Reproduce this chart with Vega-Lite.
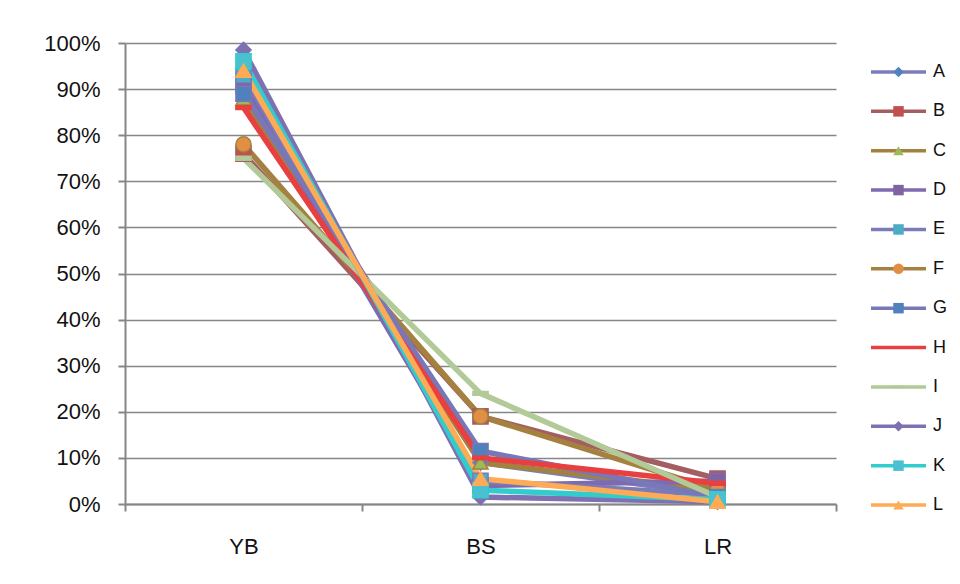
{
  "$schema": "https://vega.github.io/schema/vega-lite/v6.json",
  "padding": {"left": 43, "top": 32, "right": 0, "bottom": 0},
  "background": "white",
  "spacing": 32,
  "config": {
    "font": "Liberation Sans",
    "view": {"stroke": null}
  },
  "datasets": {
    "vals": [
      {"series": "A", "cat": "YB", "value": 0.89}, {"series": "A", "cat": "BS", "value": 0.09}, {"series": "A", "cat": "LR", "value": 0.02},
      {"series": "B", "cat": "YB", "value": 0.76}, {"series": "B", "cat": "BS", "value": 0.19}, {"series": "B", "cat": "LR", "value": 0.055},
      {"series": "C", "cat": "YB", "value": 0.88}, {"series": "C", "cat": "BS", "value": 0.09}, {"series": "C", "cat": "LR", "value": 0.03},
      {"series": "D", "cat": "YB", "value": 0.91}, {"series": "D", "cat": "BS", "value": 0.04}, {"series": "D", "cat": "LR", "value": 0.05},
      {"series": "E", "cat": "YB", "value": 0.93}, {"series": "E", "cat": "BS", "value": 0.05}, {"series": "E", "cat": "LR", "value": 0.02},
      {"series": "F", "cat": "YB", "value": 0.78}, {"series": "F", "cat": "BS", "value": 0.19}, {"series": "F", "cat": "LR", "value": 0.03},
      {"series": "G", "cat": "YB", "value": 0.89}, {"series": "G", "cat": "BS", "value": 0.115}, {"series": "G", "cat": "LR", "value": 0.015},
      {"series": "H", "cat": "YB", "value": 0.86}, {"series": "H", "cat": "BS", "value": 0.10}, {"series": "H", "cat": "LR", "value": 0.045},
      {"series": "I", "cat": "YB", "value": 0.75}, {"series": "I", "cat": "BS", "value": 0.24}, {"series": "I", "cat": "LR", "value": 0.015},
      {"series": "J", "cat": "YB", "value": 0.985}, {"series": "J", "cat": "BS", "value": 0.015}, {"series": "J", "cat": "LR", "value": 0.005},
      {"series": "K", "cat": "YB", "value": 0.96}, {"series": "K", "cat": "BS", "value": 0.03}, {"series": "K", "cat": "LR", "value": 0.01},
      {"series": "L", "cat": "YB", "value": 0.94}, {"series": "L", "cat": "BS", "value": 0.055}, {"series": "L", "cat": "LR", "value": 0.005}
    ],
    "names": [
      {"series": "A"}, {"series": "B"}, {"series": "C"}, {"series": "D"}, {"series": "E"}, {"series": "F"},
      {"series": "G"}, {"series": "H"}, {"series": "I"}, {"series": "J"}, {"series": "K"}, {"series": "L"}
    ]
  },
  "hconcat": [
    {
      "width": 711,
      "height": 461,
      "data": {"name": "vals"},
      "encoding": {
        "x": {
          "field": "cat", "type": "nominal", "bandPosition": 0.5,
          "sort": ["YB", "BS", "LR"],
          "scale": {"type": "band", "domain": ["YB", "BS", "LR"], "paddingInner": 0, "paddingOuter": 0},
          "axis": {
            "title": null, "labelAngle": 0, "tickBand": "extent", "grid": false,
            "domainColor": "#868686", "domainWidth": 2, "tickColor": "#868686", "tickWidth": 2, "tickSize": 7,
            "labelFontSize": 22, "labelColor": "#111111", "labelPadding": 25
          }
        },
        "y": {
          "field": "value", "type": "quantitative",
          "scale": {"domain": [0, 1], "nice": false, "zero": true},
          "axis": {
            "title": null, "format": ".0%", "values": [0, 0.1, 0.2, 0.3, 0.4, 0.5, 0.6, 0.7, 0.8, 0.9, 1],
            "grid": true, "gridColor": "#868686", "gridWidth": 1.5,
            "domainColor": "#868686", "domainWidth": 2, "tickColor": "#868686", "tickWidth": 2, "tickSize": 7,
            "labelFontSize": 22, "labelColor": "#111111", "labelPadding": 18
          }
        }
      },
      "layer": [
        {
          "mark": {"type": "line", "strokeWidth": 5.5, "strokeJoin": "round"},
          "encoding": {
            "stroke": {
              "field": "series", "type": "nominal", "legend": null,
              "scale": {
                "domain": ["A", "B", "C", "D", "E", "F", "G", "H", "I", "J", "K", "L"],
                "range": ["#7C7CBA", "#A35E62", "#A3813F", "#7E6AAE", "#7B7BBA", "#A5813F", "#7878B8", "#E84040", "#B2CA98", "#7F70B2", "#33CCCC", "#FFAA55"]
              }
            },
            "order": {"field": "series"}
          }
        },
        {
          "mark": {"type": "point", "filled": true, "size": 230, "opacity": 1, "strokeWidth": 1.5},
          "encoding": {
            "fill": {
              "field": "series", "type": "nominal", "legend": null,
              "scale": {
                "domain": ["A", "B", "C", "D", "E", "F", "G", "H", "I", "J", "K", "L"],
                "range": ["#4F81BD", "#C0504D", "#9BBB59", "#8064A2", "#4BACC6", "#E08F45", "#4F81BD", "#E84040", "#B2CA98", "#7F70B2", "#4BC0D0", "#FFAA55"]
              }
            },
            "stroke": {"field": "series", "type": "nominal", "legend": null},
            "shape": {
              "field": "series", "type": "nominal", "legend": null,
              "scale": {
                "domain": ["A", "B", "C", "D", "E", "F", "G", "H", "I", "J", "K", "L"],
                "range": ["diamond", "square", "triangle-up", "square", "square", "circle", "square", "M-1,-0.25L1,-0.25L1,0.25L-1,0.25Z", "M-1,-0.25L1,-0.25L1,0.25L-1,0.25Z", "diamond", "square", "triangle-up"]
              }
            }
          }
        }
      ]
    },
    {
      "width": 55,
      "height": 491,
      "data": {"name": "names"},
      "encoding": {
        "y": {
          "field": "series", "type": "nominal",
          "scale": {"type": "point", "padding": 0.736, "domain": ["A", "B", "C", "D", "E", "F", "G", "H", "I", "J", "K", "L"]},
          "axis": null
        }
      },
      "layer": [
        {
          "mark": {"type": "rule", "strokeWidth": 3.5},
          "encoding": {
            "x": {"datum": 0, "type": "quantitative", "scale": {"domain": [0, 1]}, "axis": null},
            "x2": {"datum": 1},
            "stroke": {
              "field": "series", "type": "nominal", "legend": null,
              "scale": {
                "domain": ["A", "B", "C", "D", "E", "F", "G", "H", "I", "J", "K", "L"],
                "range": ["#7C7CBA", "#A35E62", "#A3813F", "#7E6AAE", "#7B7BBA", "#A5813F", "#7878B8", "#E84040", "#B2CA98", "#7F70B2", "#33CCCC", "#FFAA55"]
              }
            }
          }
        },
        {
          "mark": {"type": "point", "filled": true, "size": 110, "opacity": 1},
          "encoding": {
            "x": {"datum": 0.5, "type": "quantitative"},
            "fill": {
              "field": "series", "type": "nominal", "legend": null,
              "scale": {
                "domain": ["A", "B", "C", "D", "E", "F", "G", "H", "I", "J", "K", "L"],
                "range": ["#4F81BD", "#C0504D", "#9BBB59", "#8064A2", "#4BACC6", "#E08F45", "#4F81BD", "#E84040", "#B2CA98", "#7F70B2", "#4BC0D0", "#FFAA55"]
              }
            },
            "shape": {
              "field": "series", "type": "nominal", "legend": null,
              "scale": {
                "domain": ["A", "B", "C", "D", "E", "F", "G", "H", "I", "J", "K", "L"],
                "range": ["diamond", "square", "triangle-up", "square", "square", "circle", "square", "M-1,-0.25L1,-0.25L1,0.25L-1,0.25Z", "M-1,-0.25L1,-0.25L1,0.25L-1,0.25Z", "diamond", "square", "triangle-up"]
              }
            }
          }
        },
        {
          "mark": {"type": "text", "align": "left", "baseline": "middle", "dx": 7, "fontSize": 18, "color": "#111111"},
          "encoding": {
            "x": {"datum": 1, "type": "quantitative"},
            "text": {"field": "series"}
          }
        }
      ]
    }
  ]
}
